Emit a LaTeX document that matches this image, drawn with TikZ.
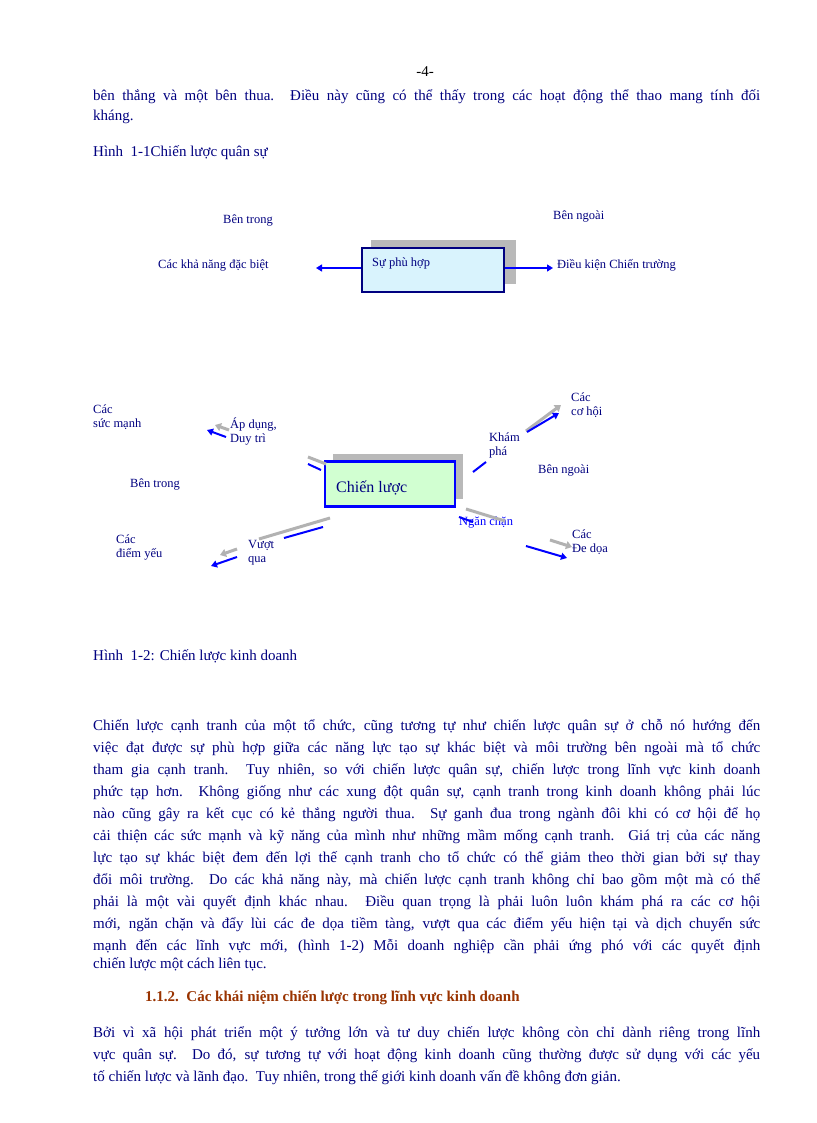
\documentclass[tikz,border=0pt]{standalone}
\usepackage{fontspec}
\setmainfont{Liberation Serif}
\usetikzlibrary{arrows.meta}
\definecolor{navy}{HTML}{000080}
\definecolor{dred}{HTML}{993300}
\definecolor{bblue}{HTML}{0000FF}
\newcommand{\jl}[1]{\parbox{667pt}{\parfillskip=0pt\relax #1}}
\begin{document}
\begin{tikzpicture}[x=1pt,y=-1pt,
  body/.style={anchor=west,inner sep=0,text=navy,font=\fontsize{15}{17}\selectfont},
  dg/.style={anchor=west,inner sep=0,text=navy,font=\fontsize{12.5}{14}\selectfont},
  barrow/.style={draw=bblue,line width=2pt,-{Triangle[length=6pt,width=7pt]}},
  bline/.style={draw=bblue,line width=2pt},
  garrow/.style={draw=gray!60,line width=3pt,-{Triangle[length=6pt,width=8pt]}},
  gline/.style={draw=gray!60,line width=3pt}]
\useasboundingbox (0,0) rectangle (816,1123);
\fill[white] (0,0) rectangle (816,1123);
\node[anchor=center,inner sep=0,font=\fontsize{15}{17}\selectfont] (pg) at (425,72) {-4-};
\node[body] (l0) at (93,97) {\jl{bên thắng và một bên thua. Điều này cũng có thể thấy trong các hoạt động thể thao mang tính đối}};
\node[body] (l0b) at (93,117) {kháng.};
\node[body] (h1) at (93,153) {Hình\ \ 1-1Chiến lược quân sự};
% diagram 1
\node[dg] (bt1) at (223,221) {Bên trong};
\node[dg] (bn1) at (553,216) {Bên ngoài};
\node[dg] (kn) at (158,265) {Các khả năng đặc biệt};
\fill[gray!55] (371,240) rectangle (516,284);
\node[draw=navy,line width=1.8pt,fill=cyan!15,minimum width=142pt,minimum height=44pt,inner sep=0] (box1) at (433,270) {};
\node[dg] (ph) at (372,263) {Sự phù hợp};
\coordinate (a1) at (316,268);
\coordinate (a2) at (553,268);
\draw[barrow,line width=1.3pt] (box1.west|-a1) -- (a1);
\draw[barrow,line width=1.3pt] (box1.east|-a2) -- (a2);
\node[dg] (dk) at (557,265) {Điều kiện Chiến trường};
% diagram 2
\node[dg] (sm) at (93,418) {\begin{tabular}{@{}l@{}}Các\\sức mạnh\end{tabular}};
\node[dg] (ad) at (230,432) {\begin{tabular}{@{}l@{}}Áp dụng,\\Duy trì\end{tabular}};
\fill[gray!55] (333,454) rectangle (463,499);
\node[draw=bblue,line width=2.5pt,fill=green!18,minimum width=130pt,minimum height=45pt,inner sep=0] (box2) at (390,484) {};
\node[anchor=west,inner sep=0,text=navy,font=\fontsize{16}{18}\selectfont] (cl) at (336,488) {Chiến lược};
\node[dg] (btr) at (130,484) {Bên trong};
\node[dg] (kp) at (489,446) {\begin{tabular}{@{}l@{}}Khám\\phá\end{tabular}};
\node[dg] (bn2) at (538,470) {Bên ngoài};
\node[dg] (ch) at (571,406) {\begin{tabular}{@{}l@{}}Các\\cơ hội\end{tabular}};
\node[dg,text=bblue] (nc) at (459,523) {Ngăn chặn};
\node[dg] (dd) at (572,543) {\begin{tabular}{@{}l@{}}Các\\Đe dọa\end{tabular}};
\node[dg] (dy) at (116,548) {\begin{tabular}{@{}l@{}}Các\\điểm yếu\end{tabular}};
\node[dg] (vq) at (248,553) {\begin{tabular}{@{}l@{}}Vượt\\qua\end{tabular}};
\coordinate (p1) at (229,430); \coordinate (p2) at (215,425);
\draw[garrow] (p1) -- (p2);
\coordinate (p3) at (226,437); \coordinate (p4) at (207,430);
\draw[barrow] (p3) -- (p4);
\coordinate (q1) at (308,457); \coordinate (q2) at (326,464);
\draw[gline] (q1) -- (q2);
\coordinate (q3) at (308,464); \coordinate (q4) at (321,470);
\draw[bline] (q3) -- (q4);
\coordinate (k1) at (473,472); \coordinate (k2) at (486,462);
\draw[bline] (k1) -- (k2);
\coordinate (c1) at (526,431); \coordinate (c2) at (561,405);
\draw[garrow] (c1) -- (c2);
\coordinate (c3) at (527,432); \coordinate (c4) at (559,413);
\draw[barrow] (c3) -- (c4);
\coordinate (n1) at (466,509); \coordinate (n2) at (505,521);
\draw[gline] (n1) -- (n2);
\coordinate (n3) at (459,517); \coordinate (n4) at (473,522);
\draw[bline] (n3) -- (n4);
\coordinate (e1) at (550,540); \coordinate (e2) at (572,547);
\draw[garrow] (e1) -- (e2);
\coordinate (e3) at (526,546); \coordinate (e4) at (567,558);
\draw[barrow] (e3) -- (e4);
\coordinate (v1) at (330,518); \coordinate (v2) at (259,539);
\draw[gline] (v1) -- (v2);
\coordinate (v3) at (323,527); \coordinate (v4) at (284,538);
\draw[bline] (v3) -- (v4);
\coordinate (w1) at (237,549); \coordinate (w2) at (220,555);
\draw[garrow] (w1) -- (w2);
\coordinate (w3) at (237,557); \coordinate (w4) at (211,566);
\draw[barrow] (w3) -- (w4);
\node[body] (h2) at (93,656) {Hình\ \ 1-2: Chiến lược kinh doanh};
% paragraph
\node[body] (p01) at (93,727) {\jl{Chiến lược cạnh tranh của một tổ chức, cũng tương tự như chiến lược quân sự ở chỗ nó hướng đến}};
\node[body] (p02) at (93,749) {\jl{việc đạt được sự phù hợp giữa các năng lực tạo sự khác biệt và môi trường bên ngoài mà tổ chức}};
\node[body] (p03) at (93,771) {\jl{tham gia cạnh tranh. Tuy nhiên, so với chiến lược quân sự, chiến lược trong lĩnh vực kinh doanh}};
\node[body] (p04) at (93,793) {\jl{phức tạp hơn. Không giống như các xung đột quân sự, cạnh tranh trong kinh doanh không phải lúc}};
\node[body] (p05) at (93,815) {\jl{nào cũng gây ra kết cục có kẻ thắng người thua. Sự ganh đua trong ngành đôi khi có cơ hội để họ}};
\node[body] (p06) at (93,837) {\jl{cải thiện các sức mạnh và kỹ năng của mình như những mầm mống cạnh tranh. Giá trị của các năng}};
\node[body] (p07) at (93,859) {\jl{lực tạo sự khác biệt đem đến lợi thế cạnh tranh cho tổ chức có thể giảm theo thời gian bởi sự thay}};
\node[body] (p08) at (93,881) {\jl{đổi môi trường. Do các khả năng này, mà chiến lược cạnh tranh không chỉ bao gồm một mà có thể}};
\node[body] (p09) at (93,903) {\jl{phải là một vài quyết định khác nhau. Điều quan trọng là phải luôn luôn khám phá ra các cơ hội}};
\node[body] (p10) at (93,925) {\jl{mới, ngăn chặn và đẩy lùi các đe dọa tiềm tàng, vượt qua các điểm yếu hiện tại và dịch chuyển sức}};
\node[body] (p11) at (93,947) {\jl{mạnh đến các lĩnh vực mới, (hình 1-2) Mỗi doanh nghiệp cần phải ứng phó với các quyết định}};
\node[body] (p12) at (93,964) {chiến lược một cách liên tục.};
\node[body,text=dred,font=\fontsize{15}{17}\selectfont\bfseries] (hd) at (145,998) {1.1.2.\ \ Các khái niệm chiến lược trong lĩnh vực kinh doanh};
\node[body] (r1) at (93,1034) {\jl{Bởi vì xã hội phát triển một ý tưởng lớn và tư duy chiến lược không còn chỉ dành riêng trong lĩnh}};
\node[body] (r2) at (93,1056) {\jl{vực quân sự. Do đó, sự tương tự với hoạt động kinh doanh cũng thường được sử dụng với các yếu}};
\node[body] (r3) at (93,1078) {tố chiến lược và lãnh đạo.\ \ Tuy nhiên, trong thế giới kinh doanh vấn đề không đơn giản.};
\end{tikzpicture}
\end{document}
